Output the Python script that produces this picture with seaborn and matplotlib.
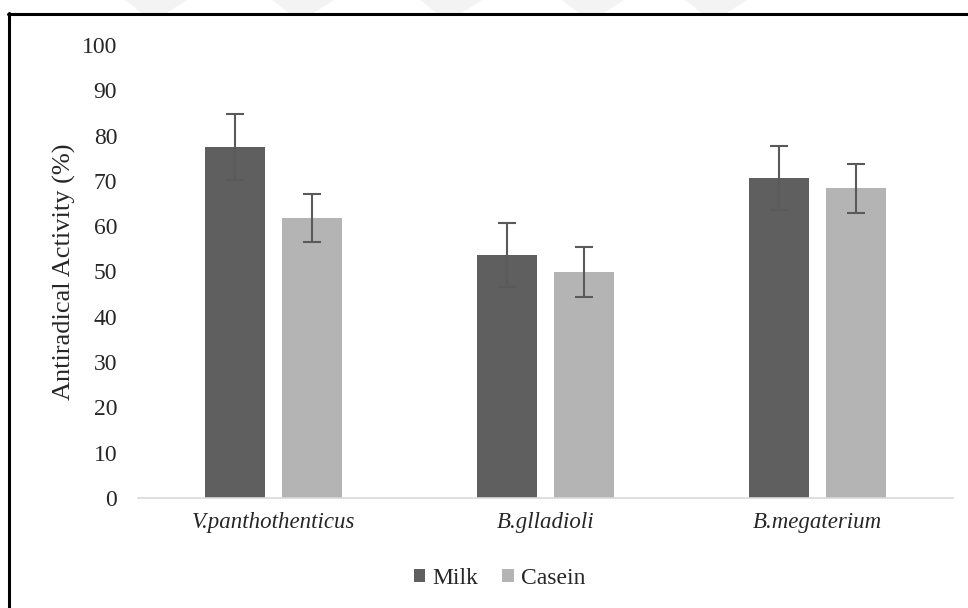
import numpy as np
import pandas as pd
import matplotlib
matplotlib.use("Agg")
import matplotlib.pyplot as plt
import seaborn as sns
from matplotlib.patches import Polygon, Rectangle
from matplotlib.lines import Line2D

# Data
strains = ["V.panthothenticus", "B.glladioli", "B.megaterium"]
substrates = ["Milk", "Casein"]
milk_activity = [77.5, 53.6, 70.6]
casein_activity = [61.8, 49.9, 68.4]
milk_sd = [7.2, 7.0, 7.1]
casein_sd = [5.4, 5.5, 5.4]
y_ticks = [0, 10, 20, 30, 40, 50, 60, 70, 80, 90, 100]

df = pd.DataFrame({
    "Strain": strains * 2,
    "Substrate": ["Milk"] * 3 + ["Casein"] * 3,
    "Activity": milk_activity + casein_activity,
    "SD": milk_sd + casein_sd,
})

sns.set_theme(style="white")
plt.rcParams["font.family"] = ["Liberation Serif", "DejaVu Serif"]

fig = plt.figure(figsize=(9.68, 6.08), dpi=100)
ax = fig.add_axes([0.1426, 0.181, 0.842, 0.745])

palette = {"Milk": "#5f5f5f", "Casein": "#b4b4b4"}
sns.barplot(data=df, x="Strain", y="Activity", hue="Substrate",
            hue_order=substrates, order=strains, palette=palette,
            errorbar=None, width=0.567, gap=0.22, saturation=1,
            linewidth=0, legend=False, ax=ax)

# Error bars at each bar's centre
for container, name in zip(ax.containers, substrates):
    sub = df[df["Substrate"] == name].set_index("Strain").loc[strains]
    xs = [p.get_x() + p.get_width() / 2 for p in container.patches]
    ax.errorbar(xs, sub["Activity"], yerr=sub["SD"], fmt="none",
                ecolor="#5a5a5a", elinewidth=1.5, capsize=6.5,
                capthick=1.5, zorder=3)

ax.set_ylim(0, 100)
ax.set_xlim(-0.5, 2.5)
ax.set_yticks(y_ticks)
ax.set_yticklabels([str(t) for t in y_ticks], fontsize=17)
ax.tick_params(axis="y", length=0, pad=15)
ax.tick_params(axis="x", length=0, pad=10)
for lbl in ax.get_xticklabels():
    lbl.set_fontstyle("italic")
    lbl.set_fontsize(16.5)
ax.set_xlabel("")
ax.set_ylabel("Antiradical Activity (%)", fontsize=19, labelpad=4)

for side in ["top", "right", "left"]:
    ax.spines[side].set_visible(False)
ax.spines["bottom"].set_color("#d9d9d9")
ax.spines["bottom"].set_linewidth(1.2)

handles = [Rectangle((0, 0), 1, 1, facecolor=palette[s], edgecolor="none")
           for s in substrates]
fig.legend(handles, substrates, loc="center", bbox_to_anchor=(0.516, 0.049),
           ncol=2, frameon=False, fontsize=17, handlelength=0.5,
           handleheight=0.5, handletextpad=0.3, columnspacing=1.0)

# Faint watermark shapes along the top edge
for x0 in [125, 272, 420, 562, 685]:
    pts = [[x0, 608], [x0 + 62, 608], [x0 + 40, 594], [x0 + 18, 594]]
    fig.patches.append(Polygon([[px / 968, py / 608] for px, py in pts],
                               closed=True, transform=fig.transFigure,
                               facecolor="#f3f3f3", edgecolor="none", zorder=0))

# Frame around the chart (left and top edges)
fig.add_artist(Line2D([0.0093, 0.0093], [0.0, 0.9785], transform=fig.transFigure,
                      color="black", linewidth=2.2))
fig.add_artist(Line2D([0.0083, 1.0], [0.9775, 0.9775], transform=fig.transFigure,
                      color="black", linewidth=2.2))

fig.savefig("out.png", dpi=100, facecolor="white")
